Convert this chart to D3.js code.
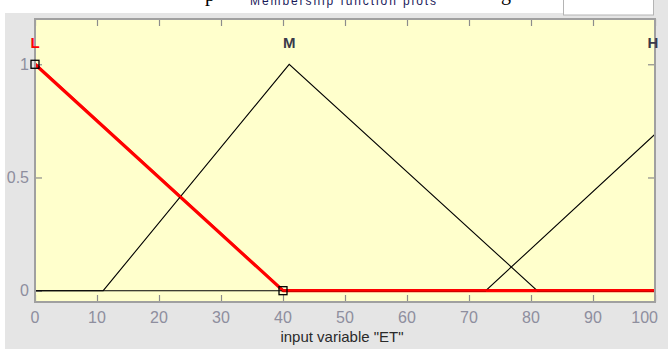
<!DOCTYPE html>
<html>
<head>
<meta charset="utf-8">
<script src="https://cdn.jsdelivr.net/npm/d3@7"></script>
<style>
  html, body { margin: 0; padding: 0; background: #ffffff; }
  svg { display: block; }
</style>
</head>
<body>
<svg id="chart" width="668" height="349"></svg>
<script>
// ---- data ----
const xTicks = [0, 10, 20, 30, 40, 50, 60, 70, 80, 90, 100];
const yTicks = [0, 0.5, 1];
const yTickLabels = ["0", "0.5", "1"];
const mfNames = ["L", "M", "H"];
const mfParams = [[-40, 0, 40], [11, 41, 81], [72.7, 112.2, 152]];
const selectedMf = 0;
const xRange = [0, 100];
const yRange = [-0.05, 1.2];
const xLabel = 'input variable "ET"';
const panelTitle = "Membership function plots";

// ---- layout ----
const W = 668, H = 349;
const plot = { left: 35, right: 655, top: 19, bottom: 302 };
const svg = d3.select("#chart");

const x = d3.scaleLinear().domain(xRange).range([plot.left, plot.right]);
const y = d3.scaleLinear().domain(yRange).range([plot.bottom, plot.top]);

// panel backgrounds
svg.append("rect").attr("x", 5).attr("y", 13).attr("width", W - 5).attr("height", H - 13).attr("fill", "#e5e5e5");
svg.append("rect").attr("x", 654).attr("y", 0).attr("width", 14).attr("height", 13).attr("fill", "#e5e5e5");
// white edit box top right
svg.append("rect").attr("x", 563.5).attr("y", -2).attr("width", 90).attr("height", 17)
  .attr("fill", "#ffffff").attr("stroke", "#b4b4b4").attr("stroke-width", 1);

// clipped panel title & document fragments (cut off at the top edge, as in the reference)
svg.append("text").attr("x", 343).attr("y", 5).attr("text-anchor", "middle")
  .attr("font-family", "Liberation Sans, Arial, sans-serif").attr("font-size", 12)
  .attr("fill", "#1a1a5a").attr("textLength", 186).text(panelTitle);
svg.append("text").attr("x", 205).attr("y", 1).attr("font-family", "Liberation Serif, Times New Roman, serif")
  .attr("font-size", 20).attr("fill", "#000").text("p");
svg.append("text").attr("x", 501).attr("y", 0).attr("font-family", "Liberation Serif, Times New Roman, serif")
  .attr("font-size", 20).attr("fill", "#000").text("g");

// plot background
svg.append("rect").attr("x", plot.left).attr("y", plot.top)
  .attr("width", plot.right - plot.left).attr("height", plot.bottom - plot.top)
  .attr("fill", "#ffffcc");

svg.append("clipPath").attr("id", "clip").append("rect")
  .attr("x", plot.left).attr("y", plot.top)
  .attr("width", plot.right - plot.left).attr("height", plot.bottom - plot.top);

// ticks (inside, all four sides)
const tickLen = 7;
const tickColor = "#8c8c8c";
const axBottom = d3.axisTop(x).tickValues(xTicks).tickSize(tickLen).tickFormat("");
const axTop = d3.axisBottom(x).tickValues(xTicks).tickSize(tickLen).tickFormat("");
const axLeft = d3.axisRight(y).tickValues(yTicks).tickSize(tickLen).tickFormat("");
const axRight = d3.axisLeft(y).tickValues(yTicks).tickSize(tickLen).tickFormat("");
[[axBottom, `translate(0,${plot.bottom})`], [axTop, `translate(0,${plot.top})`],
 [axLeft, `translate(${plot.left},0)`], [axRight, `translate(${plot.right},0)`]].forEach(([ax, tr]) => {
  const g = svg.append("g").attr("transform", tr).call(ax);
  g.select(".domain").remove();
  g.selectAll("line").attr("stroke", tickColor).attr("stroke-width", 1.2);
});

// tick labels
const labelFont = "Liberation Sans Narrow, Arial Narrow, Liberation Sans, Arial, sans-serif";
const labelColor = "#8e8e9e";
svg.append("g").selectAll("text").data(xTicks).join("text")
  .attr("x", (d, i) => i === xTicks.length - 1 ? 658 : x(d))
  .attr("y", 323)
  .attr("text-anchor", (d, i) => i === xTicks.length - 1 ? "end" : "middle")
  .attr("font-family", labelFont).attr("font-size", 16).attr("fill", labelColor)
  .text(d => d);
svg.append("g").selectAll("text").data(yTicks).join("text")
  .attr("x", 29).attr("y", d => y(d) + 5.5).attr("text-anchor", "end")
  .attr("font-family", labelFont).attr("font-size", 16).attr("fill", labelColor)
  .text((d, i) => yTickLabels[i]);

// x-axis title
svg.append("text").attr("x", 342).attr("y", 342).attr("text-anchor", "middle")
  .attr("font-family", labelFont).attr("font-size", 15).attr("fill", "#2a2a2a")
  .text(xLabel);

// membership functions
function trimf(v, [a, b, c]) {
  if (v <= a || v >= c) return 0;
  return v <= b ? (v - a) / (b - a) : (c - v) / (c - b);
}
function mfPoints(p) {
  const xs = Array.from(new Set([xRange[0], ...p, xRange[1]]))
    .filter(v => v >= xRange[0] && v <= xRange[1]).sort((a, b) => a - b);
  return xs.map(v => [v, trimf(v, p)]);
}
const line = d3.line().x(d => x(d[0])).y(d => y(d[1]));
const g = svg.append("g").attr("clip-path", "url(#clip)");
// selected (red) first
g.append("path").attr("d", line(mfPoints(mfParams[selectedMf])))
  .attr("fill", "none").attr("stroke", "#ff0000").attr("stroke-width", 3.2).attr("stroke-linejoin", "round");
mfParams.forEach((p, i) => {
  if (i === selectedMf) return;
  g.append("path").attr("d", line(mfPoints(p)))
    .attr("fill", "none").attr("stroke", "#000").attr("stroke-width", 1.1);
});
g.append("path").attr("d", line(mfPoints(mfParams[selectedMf])))
  .attr("fill", "none").attr("stroke", "#ff0000").attr("stroke-width", 2).attr("transform", "translate(0,-0.5)");

// plot border
svg.append("rect").attr("x", plot.left).attr("y", plot.top)
  .attr("width", plot.right - plot.left).attr("height", plot.bottom - plot.top)
  .attr("fill", "none").attr("stroke", "#a0a0a0").attr("stroke-width", 2);

// square markers on selected MF vertices within range
const sel = mfParams[selectedMf].filter(v => v >= xRange[0] && v <= xRange[1]);
svg.append("g").selectAll("rect").data(sel).join("rect")
  .attr("x", d => x(d) - 4).attr("y", d => y(trimf(d, mfParams[selectedMf])) - 4)
  .attr("width", 8).attr("height", 8).attr("fill", "none").attr("stroke", "#000").attr("stroke-width", 1.3);

// MF name labels (drawn over the border, as in the reference)
svg.append("g").selectAll("text").data(mfNames).join("text")
  .attr("x", (d, i) => Math.min(Math.max(x(mfParams[i][1]), plot.left), plot.right - 2))
  .attr("y", y(1.1) + 6).attr("text-anchor", "middle")
  .attr("font-family", "Liberation Sans, Arial, sans-serif").attr("font-size", 15).attr("font-weight", "bold")
  .attr("fill", (d, i) => i === selectedMf ? "#ff0000" : "#3a3a4a")
  .text(d => d);
</script>
</body>
</html>
